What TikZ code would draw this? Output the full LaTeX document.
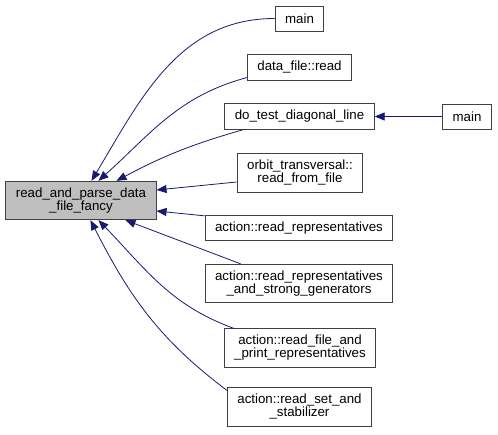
\documentclass[tikz,border=0pt]{standalone}
\usepackage{fontspec}
\setmainfont{Liberation Sans}
\usetikzlibrary{arrows.meta}
\definecolor{azulnoche}{HTML}{191970}
\definecolor{borde}{HTML}{404040}
\definecolor{grisfn}{HTML}{BFBFBF}

\begin{document}
\begin{tikzpicture}[x=1pt, y=1pt, font=\fontsize{13.3}{13}\selectfont,
    fn/.style={draw=borde, line width=0.9pt, fill=white, align=center,
      inner xsep=10pt, inner ysep=6.5pt, minimum height=25pt},
    call/.style={azulnoche, line width=0.8pt, -{Triangle[length=10pt, width=8pt]}}]
  \useasboundingbox (0,0) rectangle (498,435);
  \node[fn, fill=grisfn] (fancy) at (81,234.5) {read\_and\_parse\_data\\\_file\_fancy};
  \node[fn] (mainA) at (299.5,416.5) {main};
  \node[fn] (dfread) at (299.5,367.5) {data\_file::read};
  \node[fn] (dtdl) at (299.5,318.5) {do\_test\_diagonal\_line};
  \node[fn] (mainB) at (467,318.5) {main};
  \node[fn] (orbit) at (300,262) {orbit\_transversal::\\read\_from\_file};
  \node[fn] (arep) at (299,207) {action::read\_representatives};
  \node[fn] (arsg) at (299,151.5) {action::read\_representatives\\\_and\_strong\_generators};
  \node[fn] (arfp) at (300,87) {action::read\_file\_and\\\_print\_representatives};
  \node[fn] (arss) at (299.5,28) {action::read\_set\_and\\\_stabilizer};
  \draw[call] (mainA.west) to[out=180, in=59] ([xshift=86pt]fancy.north west);
  \draw[call] ([yshift=3pt]dfread.south west) to[out=195, in=42] ([xshift=93pt]fancy.north west);
  \draw[call] ([xshift=19pt]dtdl.south west) to[out=196, in=28] ([xshift=111pt]fancy.north west);
  \draw[call] (mainB.west) -- (dtdl.east);
  \draw[call] ([yshift=-9pt]orbit.west) -- ([yshift=10.5pt]fancy.east);
  \draw[call] ([yshift=-1pt]arep.north west) -- ([yshift=-10.5pt]fancy.east);
  \draw[call] ([xshift=36pt]arsg.north west) -- ([xshift=120pt]fancy.south west);
  \draw[call] ([xshift=10pt]arfp.north west) to[out=160, in=-46] ([xshift=93pt]fancy.south west);
  \draw[call] ([yshift=-3pt]arss.north west) to[out=143, in=-63] ([xshift=85pt]fancy.south west);
\end{tikzpicture}
\end{document}
